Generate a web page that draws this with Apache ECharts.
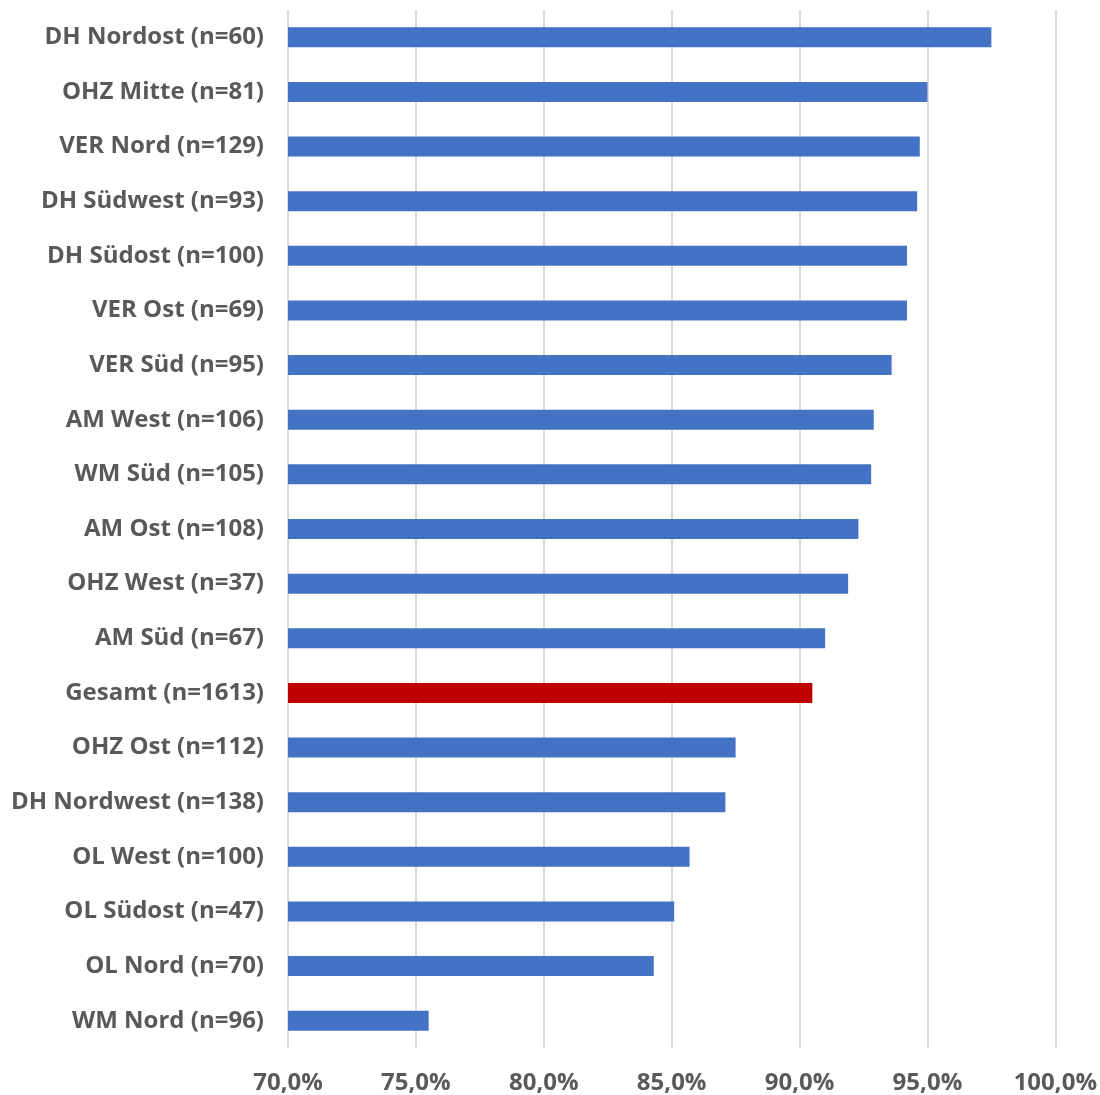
<!DOCTYPE html>
<html><head><meta charset="utf-8">
<script src="https://cdn.jsdelivr.net/npm/echarts@6/dist/echarts.min.js"></script>
<style>html,body{margin:0;padding:0;background:#fff}#c{width:1100px;height:1095px}</style>
</head><body><div id="c"></div>
<script>
const categories = ["DH Nordost (n=60)","OHZ Mitte (n=81)","VER Nord (n=129)","DH Südwest (n=93)","DH Südost (n=100)","VER Ost (n=69)","VER Süd (n=95)","AM West (n=106)","WM Süd (n=105)","AM Ost (n=108)","OHZ West (n=37)","AM Süd (n=67)","Gesamt (n=1613)","OHZ Ost (n=112)","DH Nordwest (n=138)","OL West (n=100)","OL Südost (n=47)","OL Nord (n=70)","WM Nord (n=96)"];
const values = [97.5,95.0,94.7,94.6,94.2,94.2,93.6,92.9,92.8,92.3,91.9,91.0,90.5,87.5,87.1,85.7,85.1,84.3,75.5];
const highlight = "Gesamt (n=1613)";
const xTicks = {min:70, max:100, interval:5};

const chart = echarts.init(document.getElementById('c'));
chart.setOption({
  animation:false,
  grid:{left:288,right:44,top:10,bottom:47,containLabel:false},
  xAxis:{type:'value',min:xTicks.min,max:xTicks.max,interval:xTicks.interval,
    axisLine:{show:false},axisTick:{show:false},
    splitLine:{show:true,lineStyle:{color:'#d9d9d9',width:2}},
    axisLabel:{margin:23,color:'#595959',fontFamily:'Open Sans',fontWeight:'bold',fontSize:24,
      formatter:v=>v.toFixed(1).replace('.',',')+'%'}},
  yAxis:{type:'category',inverse:true,data:categories,
    axisLine:{show:false},axisTick:{show:false},
    axisLabel:{margin:24,color:'#595959',fontFamily:'Open Sans',fontWeight:'bold',fontSize:24}},
  series:[{type:'bar',barWidth:20,
    data:values.map((v,i)=>({value:v,itemStyle:{color:categories[i]===highlight?'#C00000':'#4472C4'}}))}]
});
</script></body></html>
